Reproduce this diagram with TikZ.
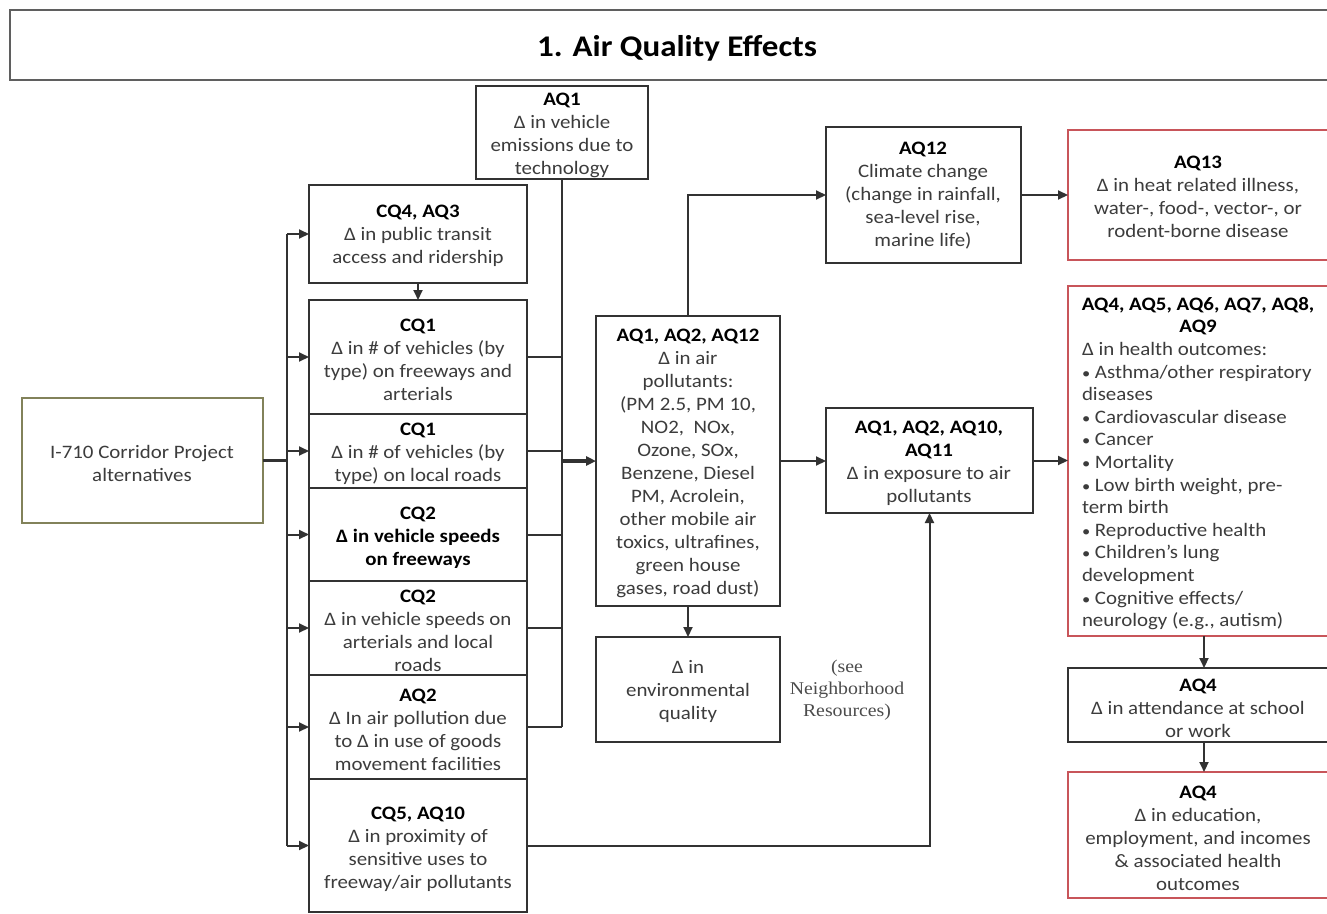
\documentclass[tikz,border=0pt]{standalone}
\usepackage{fontspec}
\setmainfont{Carlito}[FakeStretch=1.1]
\newfontfamily\notefont{Liberation Serif}[FakeStretch=1.1]
\usetikzlibrary{arrows.meta}
\definecolor{ink}{RGB}{60,60,60}
\definecolor{edge}{RGB}{50,50,50}
\definecolor{redge}{RGB}{200,85,90}
\definecolor{olive}{RGB}{130,130,90}
\definecolor{frame}{RGB}{95,95,95}
\newcommand\hdr[1]{\textcolor{black}{\textbf{#1}}}
\newcommand\bul{{\fontsize{15}{22.6}\selectfont•}}
\tikzset{
  box/.style={draw=edge, line width=2.2pt, fill=white, inner sep=0pt, outer sep=0pt},
  redbox/.style={box, draw=redge},
  txt/.style={align=center, inner sep=0pt, text=ink, font=\fontsize{19}{23}\selectfont},
  link/.style={draw=edge, line width=2pt},
  arr/.style={link, -{Triangle[length=10pt,width=9pt]}},
}
\begin{document}
\begin{tikzpicture}[x=1pt, y=-1pt]
\useasboundingbox (0,0) rectangle (1327,913);
\begin{scope}
\clip (0,0) rectangle (1327,913);
\fill[white] (0,0) rectangle (1327,913);

% heading
\node[box, draw=frame, line width=2.6pt, minimum width=1330, minimum height=70] (head) at (675,45) {};
\node[inner sep=0pt, font=\fontsize{30}{34}\selectfont\bfseries] (headt) at (677,48) {1. Air Quality Effects};

% boxes
\node[box, minimum width=172, minimum height=93] (aq1) at (562,132.5) {};
\node[box, minimum width=218, minimum height=98] (cq4) at (418,234) {};
\node[box, minimum width=218, minimum height=114] (cq1a) at (418,357) {};
\node[box, minimum width=218, minimum height=74] (cq1b) at (418,451) {};
\node[box, minimum width=218, minimum height=93] (cq2a) at (418,534.5) {};
\node[box, minimum width=218, minimum height=94] (cq2b) at (418,628) {};
\node[box, minimum width=218, minimum height=104] (aq2) at (418,727) {};
\node[box, minimum width=218, minimum height=133] (cq5) at (418,845.5) {};
\node[box, draw=olive, minimum width=241, minimum height=125] (i710) at (142.5,460.5) {};
\node[box, minimum width=184, minimum height=290] (pol) at (688,461) {};
\node[box, minimum width=184, minimum height=105] (env) at (688,689.5) {};
\node[box, minimum width=195, minimum height=136] (aq12) at (923.5,195) {};
\node[box, minimum width=207, minimum height=105] (exp) at (929.5,460.5) {};
\node[redbox, minimum width=272, minimum height=130] (aq13) at (1204,195) {};
\node[redbox, minimum width=272, minimum height=350] (health) at (1204,461) {};
\node[box, minimum width=272, minimum height=74] (att) at (1204,705) {};
\node[redbox, minimum width=272, minimum height=126] (edu) at (1204,835) {};

% texts
\node[txt] (aq1t) at (562,135) {\hdr{AQ1}\\Δ in vehicle\\emissions due to\\technology};
\node[txt] (cq4t) at (418,236) {\hdr{CQ4, AQ3}\\Δ in public transit\\access and ridership};
\node[txt] (cq1at) at (418,360) {\hdr{CQ1}\\Δ in \# of vehicles (by\\type) on freeways and\\arterials};
\node[txt] (cq1bt) at (418,454) {\hdr{CQ1}\\Δ in \# of vehicles (by\\type) on local roads};
\node[txt] (cq2at) at (418,538) {\hdr{CQ2}\\\hdr{Δ in vehicle speeds}\\\hdr{on freeways}};
\node[txt] (cq2bt) at (418,631) {\hdr{CQ2}\\Δ in vehicle speeds on\\arterials and local\\roads};
\node[txt] (aq2t) at (418,730) {\hdr{AQ2}\\Δ In air pollution due\\to Δ in use of goods\\movement facilities};
\node[txt] (cq5t) at (418,849) {\hdr{CQ5, AQ10}\\Δ in proximity of\\sensitive uses to\\freeway/air pollutants};
\node[txt] (i710t) at (142,463) {I-710 Corridor Project\\alternatives};
\node[txt] (polt) at (688,463) {\hdr{AQ1, AQ2, AQ12}\\Δ in air\\pollutants:\\(PM 2.5, PM 10,\\NO2,\ \ NOx,\\Ozone, SOx,\\Benzene, Diesel\\PM, Acrolein,\\other mobile air\\toxics, ultrafines,\\green house\\gases, road dust)};
\node[txt] (envt) at (688,691) {Δ in\\environmental\\quality};
\node[txt, text=black!70, font=\notefont\fontsize{18}{22}\selectfont] (note) at (847,690) {(see\\Neighborhood\\Resources)};
\node[txt] (aq12t) at (923,196) {\hdr{AQ12}\\Climate change\\(change in rainfall,\\sea-level rise,\\marine life)};
\node[txt] (expt) at (929,463) {\hdr{AQ1, AQ2, AQ10,}\\\hdr{AQ11}\\Δ in exposure to air\\pollutants};
\node[txt] (aq13t) at (1198,197) {\hdr{AQ13}\\Δ in heat related illness,\\water-, food-, vector-, or\\rodent-borne disease};
\node[txt, align=left, font=\fontsize{19}{22.6}\selectfont] (healtht) at (1198,463.5) {%
\makebox[232pt][c]{\hdr{AQ4, AQ5, AQ6, AQ7, AQ8,}}\\
\makebox[232pt][c]{\hdr{AQ9}}\\
Δ in health outcomes:\\
\bul{} Asthma/other respiratory\\
diseases\\
\bul{} Cardiovascular disease\\
\bul{} Cancer\\
\bul{} Mortality\\
\bul{} Low birth weight, pre-\\
term birth\\
\bul{} Reproductive health\\
\bul{} Children’s lung\\
development\\
\bul{} Cognitive effects/\\
neurology (e.g., autism)};
\node[txt] (attt) at (1198,708) {\hdr{AQ4}\\Δ in attendance at school\\or work};
\node[txt] (edut) at (1198,838) {\hdr{AQ4}\\Δ in education,\\employment, and incomes\\\& associated health\\outcomes};

% fan-out from the project alternatives
\coordinate (lb) at (287,460.5);
\draw[link, line width=3.2pt] (i710.east) -- (lb);
\draw[link, line width=2.6pt] (lb |- cq4.west) -- (lb |- cq5.west);
\foreach \n in {cq4,cq1a,cq1b,cq2a,cq2b,aq2,cq5}
  \draw[arr] (lb |- \n.west) -- (\n.west);
\draw[arr] (cq4.south) -- (cq1a.north);

% collector into the pollutant box
\draw[link] (aq1.south) -- (aq1.south |- aq2.east);
\foreach \n in {cq1a,cq1b,cq2a,cq2b,aq2}
  \draw[link] (\n.east) -- (aq1.south |- \n.east);
\draw[arr, line width=3.2pt] (aq1.south |- pol.west) -- (pol.west);

% downstream effects
\draw[arr] (pol.north) |- (aq12.west);
\draw[arr] (aq12.east) -- (aq12.east -| aq13.west);
\draw[arr] (pol.east) -- (pol.east -| exp.west);
\draw[arr] (exp.east) -- (exp.east -| health.west);
\draw[arr] (pol.south) -- (env.north);
\draw[arr] (cq5.east) -| (exp.south);
\draw[arr] (health.south) -- (att.north);
\draw[arr] (att.south) -- (edu.north);
\end{scope}
\end{tikzpicture}
\end{document}
